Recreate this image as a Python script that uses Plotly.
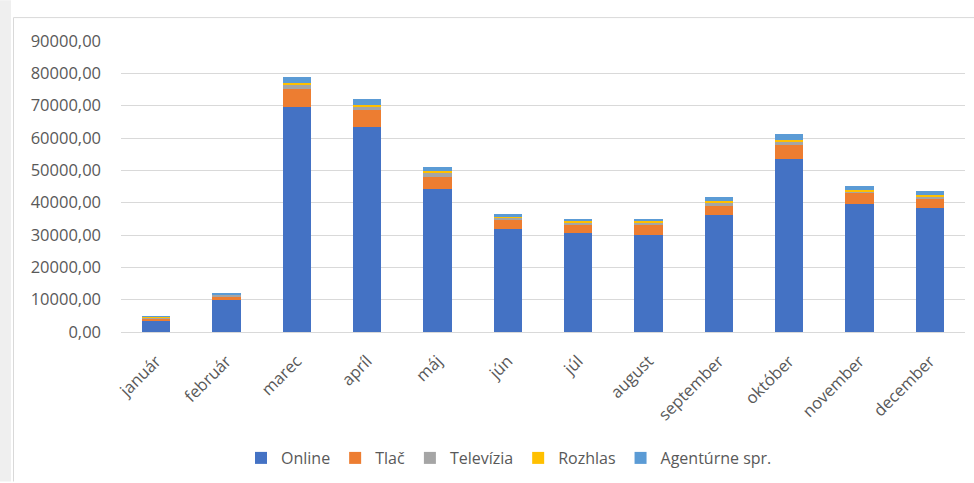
import plotly.graph_objects as go

months = ["január", "február", "marec", "apríl", "máj", "jún", "júl",
          "august", "september", "október", "november", "december"]
online = [3700, 10000, 69450, 63300, 44100, 31750, 30500, 30100, 36100, 53550, 39450, 38200]
tlac = [550, 1050, 5650, 5250, 3900, 2800, 2450, 2850, 2850, 4300, 3400, 2800]
televizia = [300, 500, 1350, 1150, 1330, 800, 930, 930, 1040, 1020, 700, 920]
rozhlas = [100, 150, 500, 600, 400, 300, 300, 300, 400, 400, 430, 400]
agenturne = [200, 350, 1850, 1750, 1250, 750, 820, 820, 1230, 2000, 1320, 1360]

series_names = ["Online", "Tlač", "Televízia", "Rozhlas", "Agentúrne spr."]
series_values = [online, tlac, televizia, rozhlas, agenturne]
series_colors = ["#4472C4", "#ED7D31", "#A5A5A5", "#FFC000", "#5B9BD5"]

y_tick_values = [0, 10000, 20000, 30000, 40000, 50000, 60000, 70000, 80000, 90000]
y_tick_labels = ["0,00", "10000,00", "20000,00", "30000,00", "40000,00",
                 "50000,00", "60000,00", "70000,00", "80000,00", "90000,00"]

FONT = "Open Sans"
TXT = "#595959"

fig = go.Figure()
for name, vals, col in zip(series_names, series_values, series_colors):
    fig.add_trace(go.Bar(x=months, y=vals, name=name, marker_color=col,
                         marker_line_width=0))

# page geometry (pixels)
L, R, T, B = 121, 9, 41, 150
W, H = 974, 483
pw, ph = W - L - R, H - T - B


def px_x(p):
    return (p - L) / pw


def px_y(p):
    return (H - B - p) / ph


shapes = [
    dict(type="rect", xref="paper", yref="paper", x0=px_x(0), x1=px_x(11),
         y0=px_y(H), y1=px_y(0), fillcolor="#EFEFEF", line_width=0, layer="below"),
    dict(type="line", xref="paper", yref="paper", x0=px_x(13.5), x1=px_x(13.5),
         y0=px_y(17.5), y1=px_y(H), line=dict(color="#D9D9D9", width=1)),
    dict(type="line", xref="paper", yref="paper", x0=px_x(13.5), x1=px_x(W),
         y0=px_y(17.5), y1=px_y(17.5), line=dict(color="#D9D9D9", width=1)),
]

fig.update_layout(
    barmode="stack",
    bargap=0.6,
    width=W, height=H,
    margin=dict(l=L, r=R, t=T, b=B, pad=0),
    paper_bgcolor="white", plot_bgcolor="white",
    font=dict(family=FONT, color=TXT),
    shapes=shapes,
    showlegend=True,
    legend=dict(orientation="h", x=px_x(509), xanchor="center",
                y=px_y(458), yanchor="middle",
                font=dict(family=FONT, size=16, color=TXT),
                itemwidth=30, traceorder="normal"),
    xaxis=dict(tickangle=-45, tickfont=dict(family=FONT, size=16.5, color=TXT),
               showline=True, linecolor="#D9D9D9", linewidth=1,
               showgrid=False, ticks="", ticklabelstandoff=12),
    yaxis=dict(range=[0, 90000], tickvals=y_tick_values, ticktext=y_tick_labels,
               tickfont=dict(family=FONT, size=16.5, color=TXT),
               showgrid=True, gridcolor="#D9D9D9", gridwidth=1,
               zeroline=False, showline=False, ticks="", ticklabelstandoff=19),
)

fig.write_html("out.html")
